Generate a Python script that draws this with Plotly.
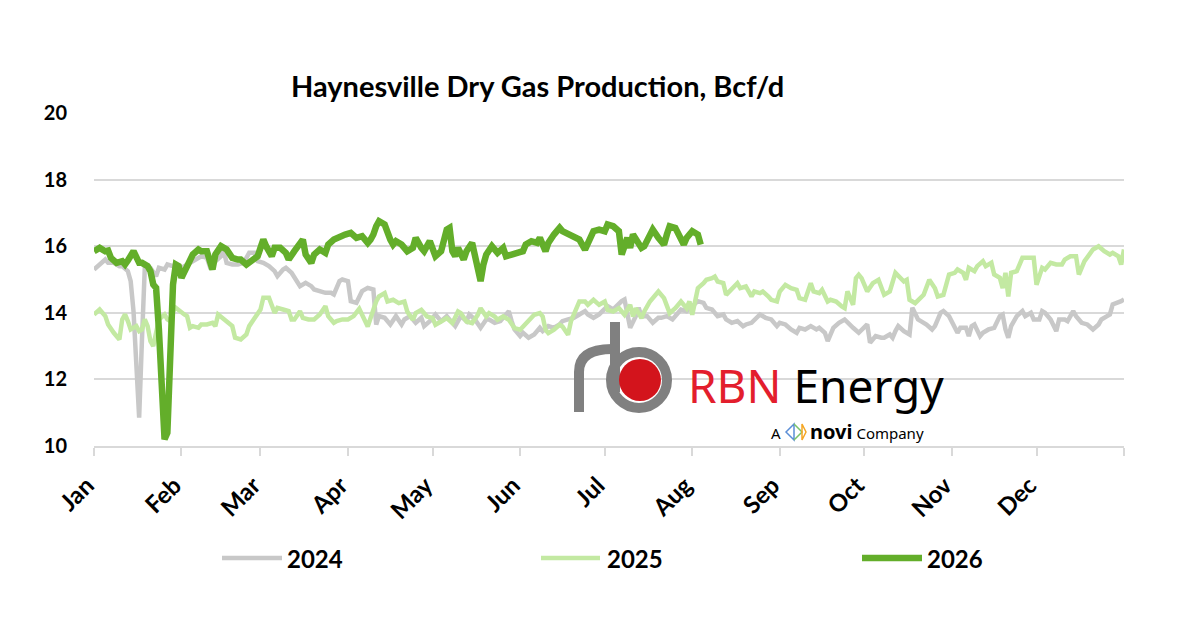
import pandas as pd
import plotly.graph_objects as go

# ---------------------------------------------------------------
# data (day of year, Bcf/d)
# ---------------------------------------------------------------
months = ["Jan", "Feb", "Mar", "Apr", "May", "Jun",
          "Jul", "Aug", "Sep", "Oct", "Nov", "Dec", ""]

days_2024 = [0, 2, 4, 5, 7, 9, 10, 12, 13, 14, 15, 16, 17, 18, 19, 20, 22, 23, 25, 26,
             28, 29, 31, 33, 35, 36, 38, 40, 41, 43, 45, 46, 47, 49, 51, 53, 55, 57, 58, 60,
             62, 64, 65, 67, 68, 70, 72, 73, 75, 77, 78, 80, 82, 84, 85, 87, 88, 90, 91, 93,
             95, 97, 99, 100, 101, 103, 105, 107, 109, 110, 112, 114, 116, 117, 119, 121, 123, 125, 126, 128,
             130, 132, 133, 135, 137, 139, 140, 142, 144, 146, 147, 148, 149, 151, 152, 154, 156, 158, 159, 161,
             163, 165, 166, 168, 170, 172, 174, 175, 177, 179, 181, 182, 184, 186, 187, 188, 190, 192, 193, 194,
             196, 198, 200, 201, 203, 205, 207, 208, 210, 212, 214, 216, 217, 219, 221, 223, 224, 226, 228, 230,
             231, 233, 235, 236, 238, 240, 242, 243, 245, 247, 249, 250, 252, 254, 256, 257, 259, 260, 262, 264,
             266, 267, 269, 271, 273, 274, 275, 277, 279, 280, 282, 283, 284, 285, 287, 289, 290, 292, 293, 295,
             297, 298, 300, 301, 303, 305, 306, 307, 309, 310, 311, 312, 314, 315, 317, 319, 321, 322, 323, 324,
             325, 327, 329, 330, 332, 333, 335, 336, 337, 339, 341, 342, 344, 345, 347, 348, 350, 352, 354, 356,
             357, 359, 360, 361, 363, 364, 365]
vals_2024 = [15.3, 15.45, 15.6, 15.5, 15.5, 15.4, 15.4, 15.25, 14.95, 14.05, 12.1, 10.85, 13.2, 15.35, 15.4, 15.35, 15.1, 15.35, 15.3, 15.45,
             15.4, 15.45, 15.35, 15.45, 15.55, 15.6, 15.7, 15.65, 15.4, 15.55, 15.7, 15.85, 15.5, 15.45, 15.45, 15.5, 15.8, 15.8, 15.55, 15.5,
             15.4, 15.25, 15.1, 15.3, 15.35, 15.2, 14.9, 14.8, 14.9, 14.8, 14.7, 14.65, 14.6, 14.6, 14.55, 14.95, 15.0, 14.95, 14.35, 14.3,
             14.65, 14.75, 14.7, 13.65, 13.9, 13.85, 13.65, 13.9, 13.65, 13.8, 13.9, 13.7, 13.85, 13.6, 13.75, 13.95, 13.75, 13.9, 13.8, 13.6,
             13.9, 13.75, 13.95, 13.8, 13.55, 13.8, 13.8, 13.7, 13.75, 13.95, 14.05, 13.75, 13.5, 13.3, 13.4, 13.25, 13.35, 13.55, 13.45, 13.6,
             13.55, 13.65, 13.75, 13.8, 13.85, 13.95, 14.05, 13.95, 13.85, 13.95, 14.1, 14.2, 14.1, 14.3, 14.35, 14.4, 13.55, 13.9, 14.15, 13.9,
             13.9, 13.7, 13.85, 13.85, 13.9, 13.8, 14.0, 14.1, 14.05, 14.2, 14.35, 14.3, 14.15, 14.1, 13.9, 13.95, 13.8, 13.7, 13.75, 13.6,
             13.65, 13.7, 13.9, 13.95, 13.85, 13.8, 13.6, 13.7, 13.65, 13.5, 13.4, 13.55, 13.5, 13.6, 13.5, 13.55, 13.4, 13.15, 13.55, 13.7,
             13.8, 13.7, 13.55, 13.4, 13.6, 13.65, 13.1, 13.3, 13.25, 13.25, 13.35, 13.25, 13.45, 13.6, 13.45, 13.35, 14.15, 13.8, 13.75, 13.65,
             13.5, 13.6, 14.0, 14.05, 13.9, 13.6, 13.4, 13.55, 13.55, 13.3, 13.6, 13.65, 13.3, 13.4, 13.5, 13.55, 13.9, 13.95, 13.5, 13.25,
             13.6, 13.9, 14.05, 13.9, 14.0, 13.8, 13.8, 14.05, 14.0, 13.8, 13.45, 13.8, 13.8, 13.75, 14.05, 13.9, 13.7, 13.65, 13.5, 13.65,
             13.8, 13.9, 13.95, 14.25, 14.3, 14.35, 14.4]

days_2025 = [0, 2, 4, 5, 7, 9, 10, 11, 12, 13, 15, 16, 17, 18, 19, 20, 21, 22, 23, 25,
             26, 27, 28, 29, 31, 32, 33, 34, 35, 37, 38, 40, 42, 43, 44, 46, 47, 49, 50, 52,
             54, 55, 57, 59, 60, 61, 62, 64, 65, 67, 69, 70, 71, 73, 74, 76, 78, 80, 82, 83,
             85, 86, 88, 90, 92, 94, 97, 100, 101, 103, 104, 106, 108, 110, 111, 113, 114, 116, 118, 120,
             121, 123, 125, 127, 129, 130, 132, 134, 136, 137, 139, 140, 142, 143, 145, 147, 149, 151, 152, 154,
             156, 158, 159, 160, 161, 163, 165, 166, 168, 169, 171, 172, 174, 175, 177, 179, 181, 182, 184, 186,
             188, 190, 191, 192, 194, 195, 197, 199, 200, 202, 203, 204, 206, 207, 208, 210, 211, 212, 213, 214,
             216, 217, 219, 220, 221, 223, 224, 226, 228, 229, 231, 233, 234, 236, 237, 239, 240, 242, 243, 245,
             247, 249, 250, 252, 254, 255, 257, 258, 260, 261, 263, 265, 266, 267, 269, 270, 271, 272, 274, 276,
             278, 280, 282, 284, 285, 287, 288, 289, 291, 292, 294, 296, 298, 299, 301, 303, 305, 306, 308, 309,
             310, 312, 313, 315, 316, 318, 319, 321, 322, 323, 324, 325, 327, 329, 331, 333, 334, 336, 337, 339,
             341, 343, 344, 346, 348, 349, 351, 353, 354, 356, 358, 360, 361, 363, 364, 365]
vals_2025 = [13.95, 14.1, 13.9, 13.65, 13.4, 13.2, 13.8, 13.95, 13.75, 13.5, 13.6, 13.45, 13.5, 13.8, 13.6, 13.15, 13.0, 13.35, 13.8, 13.95,
             13.8, 13.75, 14.05, 14.15, 14.0, 13.95, 13.9, 13.55, 13.6, 13.55, 13.65, 13.65, 13.7, 13.6, 13.95, 13.8, 13.75, 13.6, 13.25, 13.2,
             13.35, 13.6, 13.85, 14.1, 14.45, 14.45, 14.45, 14.0, 14.15, 14.1, 14.05, 13.8, 13.8, 14.05, 13.85, 13.8, 13.8, 13.95, 14.2, 13.9,
             13.7, 13.75, 13.8, 13.8, 13.9, 14.12, 13.59, 14.34, 14.49, 14.59, 14.34, 14.39, 14.29, 14.34, 14.04, 13.79, 13.99, 14.09, 13.89, 13.84,
             13.64, 13.74, 13.84, 13.69, 14.04, 13.99, 13.74, 13.69, 13.94, 14.14, 13.89, 13.99, 13.89, 13.79, 13.89, 13.79, 13.54, 13.49, 13.59, 13.79,
             13.94, 13.99, 13.89, 13.49, 13.39, 13.49, 13.64, 13.59, 13.34, 13.74, 14.14, 14.34, 14.34, 14.24, 14.39, 14.24, 14.34, 14.09, 14.04, 14.14,
             13.94, 14.24, 13.89, 14.14, 13.84, 14.04, 14.34, 14.54, 14.64, 14.44, 14.24, 13.99, 14.14, 14.24, 14.34, 14.14, 14.34, 13.94, 14.39, 14.74,
             14.89, 14.99, 15.04, 15.09, 14.94, 14.89, 14.54, 14.74, 14.89, 14.74, 14.79, 14.49, 14.64, 14.59, 14.64, 14.49, 14.39, 14.34, 14.64, 14.84,
             14.74, 14.69, 14.44, 14.39, 14.89, 14.64, 14.59, 14.69, 14.34, 14.39, 14.34, 14.19, 14.14, 14.64, 14.24, 15.04, 15.14, 15.04, 14.64, 14.89,
             14.99, 14.54, 14.64, 15.2, 15.1, 14.94, 14.99, 14.39, 14.29, 14.39, 14.54, 14.99, 14.74, 14.49, 14.54, 15.15, 15.2, 15.3, 15.2, 14.99,
             15.35, 15.25, 15.4, 15.55, 15.4, 15.5, 15.15, 15.05, 14.74, 15.2, 14.49, 15.2, 15.25, 15.65, 15.65, 15.65, 14.84, 15.35, 15.3, 15.5,
             15.45, 15.45, 15.6, 15.7, 15.7, 15.15, 15.55, 15.75, 15.9, 16.0, 15.85, 15.75, 15.8, 15.7, 15.45, 15.9]

days_2026 = [0, 2, 4, 5, 6, 7, 8, 10, 11, 12, 13, 14, 16, 17, 19, 20, 21, 22, 23, 24,
             25, 26, 27, 28, 29, 30, 31, 32, 34, 35, 37, 38, 40, 42, 43, 45, 47, 49, 51, 52,
             54, 56, 58, 59, 60, 61, 63, 64, 66, 68, 69, 71, 73, 74, 75, 77, 78, 80, 82, 83,
             85, 87, 89, 91, 93, 95, 97, 98, 99, 100, 101, 103, 104, 105, 106, 107, 109, 111, 113, 114,
             116, 117, 119, 120, 121, 123, 124, 125, 126, 127, 128, 129, 131, 132, 134, 135, 136, 137, 138, 139,
             141, 143, 145, 146, 148, 150, 152, 153, 155, 157, 158, 160, 161, 163, 165, 166, 168, 170, 172, 174,
             175, 177, 179, 181, 182, 184, 186, 187, 189, 190, 191, 193, 194, 195, 197, 198, 200, 202, 203, 204,
             206, 208, 209, 210, 212, 214, 215]
vals_2026 = [15.85, 15.95, 15.85, 15.87, 15.65, 15.6, 15.5, 15.55, 15.45, 15.57, 15.75, 15.85, 15.5, 15.5, 15.4, 15.25, 14.85, 14.75, 13.5, 11.3,
             10.2, 10.4, 12.8, 14.85, 15.45, 15.4, 15.05, 15.25, 15.55, 15.75, 15.9, 15.85, 15.85, 15.3, 15.75, 16.0, 15.9, 15.65, 15.6, 15.6,
             15.45, 15.6, 15.7, 15.95, 16.2, 16.0, 15.7, 15.95, 15.95, 15.8, 15.6, 15.85, 16.05, 16.2, 15.75, 15.5, 15.75, 15.9, 15.8, 16.05,
             16.2, 16.3, 16.35, 16.4, 16.25, 16.3, 16.1, 16.2, 16.35, 16.6, 16.75, 16.65, 16.35, 16.2, 16.05, 16.15, 16.05, 15.85, 15.95, 16.25,
             15.95, 15.85, 16.15, 15.95, 15.7, 15.85, 16.15, 16.5, 16.55, 15.85, 15.7, 15.95, 15.6, 15.85, 16.1, 15.75, 15.45, 14.95, 15.45, 15.75,
             16.0, 15.8, 15.95, 15.7, 15.75, 15.8, 15.85, 16.05, 16.15, 16.1, 16.25, 15.85, 16.1, 16.35, 16.55, 16.45, 16.35, 16.3, 16.2, 15.9,
             16.1, 16.45, 16.5, 16.45, 16.65, 16.6, 16.45, 15.75, 16.25, 15.95, 16.35, 16.05, 15.95, 16.0, 16.35, 16.5, 16.25, 16.05, 16.35, 16.6,
             16.55, 16.25, 16.05, 16.25, 16.45, 16.35, 16.05]

series = [
    ("2024", days_2024, vals_2024, "#c8c8c8", 4.5),
    ("2025", days_2025, vals_2025, "#c3e9a2", 4.5),
    ("2026", days_2026, vals_2026, "#63ae2a", 6.5),
]

base = pd.Timestamp("2026-01-01")
month_ticks = pd.date_range("2026-01-01", "2027-01-01", freq="MS")

FONT = "Lato"

fig = go.Figure()

for name, days, vals, color, width in series:
    fig.add_trace(
        go.Scatter(
            x=base + pd.to_timedelta(days, unit="D"),
            y=vals,
            mode="lines",
            name=name,
            line=dict(color=color, width=width),
            showlegend=False,
        )
    )

# plot area on screen (px): x 94..1124, y 113..446
# the page body adds an 8px offset, so margins are set from that
L, R, T, B = 94, 1124, 113, 446
OFF = 8
W, H = 1180, 632


def px(x):
    return (x - L) / (R - L)


def py(y):
    return (B - y) / (B - T)


# -------------------------------
# RBN logo (pipe + ball + text)
# -------------------------------
pipe = dict(color="#808080", width=10)
shapes = [
    dict(type="path", xref="paper", yref="paper", line=pipe,
         path=f"M{px(615)},{py(322)} L{px(615)},{py(392)}"),
    dict(type="path", xref="paper", yref="paper", line=pipe,
         path=f"M{px(579)},{py(412)} L{px(579)},{py(372)} "
              f"Q{px(579)},{py(349)} {px(612)},{py(349)}"),
    dict(type="circle", xref="paper", yref="paper", line=pipe,
         x0=px(611), x1=px(667), y0=py(408), y1=py(352)),
    dict(type="circle", xref="paper", yref="paper", line=dict(width=0),
         fillcolor="#d3141c",
         x0=px(619), x1=px(661), y0=py(401), y1=py(359)),
    # small novi mark
    dict(type="path", xref="paper", yref="paper", line=dict(color="#5b8ed6", width=1.5),
         path=f"M{px(786)},{py(432)} L{px(794)},{py(424)} L{px(794)},{py(440)} Z"),
    dict(type="path", xref="paper", yref="paper", line=dict(color="#7ac36a", width=1.5),
         path=f"M{px(794)},{py(424)} L{px(802)},{py(432)} L{px(794)},{py(440)}"),
    dict(type="path", xref="paper", yref="paper", line=dict(color="#f5a623", width=1.5),
         path=f"M{px(802)},{py(424)} L{px(806)},{py(432)} L{px(802)},{py(440)} Z"),
]

annotations = [
    dict(text="<b>Haynesville Dry Gas Production, Bcf/d</b>",
         xref="paper", yref="paper", x=px(537), y=py(86),
         xanchor="center", yanchor="middle", showarrow=False,
         font=dict(family=FONT, size=29, color="black")),
    dict(text='<span style="color:#e31e2d">RBN</span> Energy',
         xref="paper", yref="paper", x=px(686), y=py(385),
         xanchor="left", yanchor="middle", showarrow=False,
         font=dict(family="Noto Sans", size=46, color="black")),
    dict(text="A", xref="paper", yref="paper", x=px(783), y=py(433),
         xanchor="right", yanchor="middle", showarrow=False,
         font=dict(family="Noto Sans", size=15, color="black")),
    dict(text='<b><span style="font-size:20px">novi</span></b> Company',
         xref="paper", yref="paper", x=px(808), y=py(431),
         xanchor="left", yanchor="middle", showarrow=False,
         font=dict(family="Noto Sans", size=15, color="black")),
]

# -------------------------------
# legend drawn below the plot (long swatches like the original)
# -------------------------------
legend_pos = [(222, 282, 285), (541, 600, 605), (862, 922, 925)]
for (name, _, _, color, width), (x0, x1, xt) in zip(series, legend_pos):
    shapes.append(dict(type="line", xref="paper", yref="paper",
                       x0=px(x0), x1=px(x1), y0=py(558), y1=py(558),
                       line=dict(color=color, width=width)))
    annotations.append(dict(text=f"<b>{name}</b>", xref="paper", yref="paper",
                            x=px(xt), y=py(558), xanchor="left", yanchor="middle",
                            showarrow=False,
                            font=dict(family=FONT, size=24, color="black")))

fig.update_layout(
    width=W,
    height=H,
    margin=dict(l=L - OFF, r=W + OFF - R, t=T - OFF, b=H + OFF - B),
    paper_bgcolor="white",
    plot_bgcolor="white",
    font=dict(family=FONT, color="black"),
    shapes=shapes,
    annotations=annotations,
    showlegend=False,
    xaxis=dict(
        type="date",
        range=[month_ticks[0], month_ticks[-1]],
        tickvals=month_ticks,
        ticktext=months,
        tickangle=-45,
        tickfont=dict(family=FONT, size=24, color="black", weight="bold"),
        ticks="outside", ticklen=8, tickwidth=2, tickcolor="#d9d9d9",
        showline=True, linecolor="#d9d9d9", linewidth=2,
        showgrid=False, zeroline=False,
        ticklabelstandoff=6,
        ticklabelshift=-7,
    ),
    yaxis=dict(
        range=[10, 20],
        tickvals=[10, 12, 14, 16, 18, 20],
        tickfont=dict(family=FONT, size=20, color="black", weight="bold"),
        showgrid=True, gridcolor="#d9d9d9", gridwidth=2,
        zeroline=False, showline=False,
        ticks="", ticklabelstandoff=26,
    ),
)

fig.write_html("out.html")
